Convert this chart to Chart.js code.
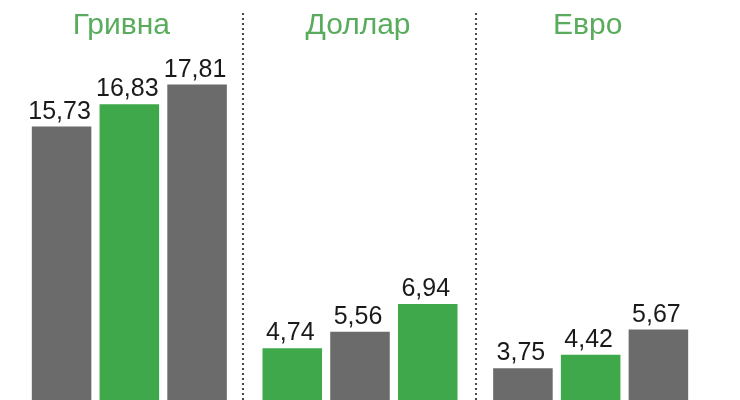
<!DOCTYPE html>
<html>
<head>
<meta charset="utf-8">
<script src="https://cdn.jsdelivr.net/npm/chart.js@4"></script>
<style>
  html, body { margin: 0; padding: 0; background: #fff; overflow: hidden; }
  #wrap { position: relative; width: 740px; height: 444px; }
</style>
</head>
<body>
<div id="wrap"><canvas id="grafico"></canvas></div>
<script>
const valyuty = ['Гривна', 'Доллар', 'Евро'];
const ryad1 = [15.73, 4.74, 3.75];
const ryad2 = [16.83, 5.56, 4.42];
const ryad3 = [17.81, 6.94, 5.67];

const SERYJ = '#6b6b6b';
const ZELENYJ = '#3fa84a';

// подписи значений над столбцами, заголовки групп и пунктирные разделители
const podpisi = {
    id: 'podpisi',
    afterDatasetsDraw(chart) {
        const ctx = chart.ctx;
        const x = chart.scales.x;
        ctx.save();

        // разделители
        const sdvig = [-2, 1];
        ctx.fillStyle = '#1e1e1e';
        for (let i = 0; i < valyuty.length - 1; i++) {
            const xs = Math.round((x.getPixelForValue(i) + x.getPixelForValue(i + 1)) / 2) + sdvig[i];
            for (let y = 14; y < chart.height; y += 5) {
                ctx.beginPath();
                ctx.arc(xs, y, 1.1, 0, Math.PI * 2);
                ctx.fill();
            }
        }

        // заголовки
        const sdvigT = [-8, -2, -3];
        ctx.fillStyle = '#58ac5c';
        ctx.font = '30px "Liberation Sans", Arial, sans-serif';
        ctx.textAlign = 'center';
        ctx.textBaseline = 'alphabetic';
        valyuty.forEach((v, i) => {
            ctx.fillText(v, x.getPixelForValue(i) + sdvigT[i], 34);
        });

        // значения
        ctx.fillStyle = '#1a1a1a';
        ctx.font = '25px "Liberation Sans", Arial, sans-serif';
        chart.data.datasets.forEach((ds, di) => {
            const meta = chart.getDatasetMeta(di);
            meta.data.forEach((bar, i) => {
                const t = ds.data[i].toFixed(2).replace('.', ',');
                ctx.fillText(t, bar.x - 2, bar.y - 8);
            });
        });
        ctx.restore();
    }
};

const ctx = document.getElementById('grafico').getContext('2d');
new Chart(ctx, {
    type: 'bar',
    data: {
        labels: valyuty,
        datasets: [
            { data: ryad1, backgroundColor: [SERYJ, ZELENYJ, SERYJ] },
            { data: ryad2, backgroundColor: [ZELENYJ, SERYJ, ZELENYJ] },
            { data: ryad3, backgroundColor: [SERYJ, ZELENYJ, SERYJ] }
        ]
    },
    options: {
        responsive: true,
        maintainAspectRatio: false,
        animation: false,
        layout: { padding: { left: 14, right: 34, top: 0, bottom: 0 } },
        datasets: { bar: { categoryPercentage: 0.881, barPercentage: 0.879 } },
        scales: {
            x: { display: false },
            y: { display: false, min: 0, max: 22 }
        },
        plugins: {
            legend: { display: false },
            tooltip: { enabled: false }
        }
    },
    plugins: [podpisi]
});
</script>
</body>
</html>
